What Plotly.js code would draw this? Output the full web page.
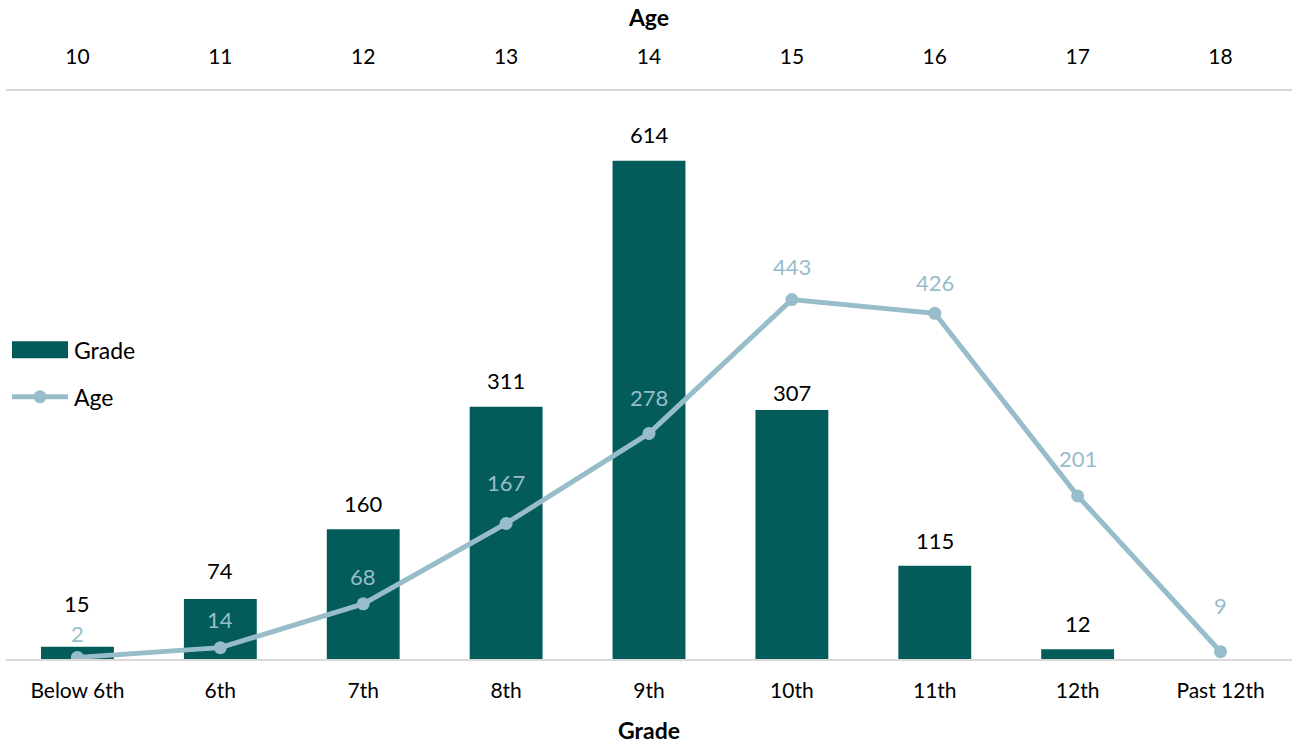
<!DOCTYPE html>
<html>
<head>
<meta charset="utf-8">
<script src="https://cdn.plot.ly/plotly-3.0.1.min.js"></script>
<style>html,body{margin:0;padding:0;background:#fff;}#chart{width:1292px;height:744px;}</style>
</head>
<body>
<div id="chart"></div>
<script>
const grades = ['Below 6th','6th','7th','8th','9th','10th','11th','12th','Past 12th'];
const gradeCounts = [15, 74, 160, 311, 614, 307, 115, 12, null];
const ages = ['10','11','12','13','14','15','16','17','18'];
const ageCounts = [2, 14, 68, 167, 278, 443, 426, 201, 9];

// label offsets (pixels above the mark), as placed in the reference
const gradeLabelShift = [43, 28, 26, 26, 26, 17, 25, 26, 26];
const ageLabelShift = [24, 28, 27, 41, 36, 33, 31, 37, 46];

const barColor = '#035b5a';
const lineColor = '#97bdca';
const fontFam = 'Lato, "Noto Sans", sans-serif';

const traces = [
  {
    type: 'bar', name: 'Grade', x: grades, y: gradeCounts,
    marker: {color: barColor}, width: 0.51, xaxis: 'x', yaxis: 'y',
    legendgroup: 'g', hoverinfo: 'x+y'
  },
  {
    type: 'scatter', mode: 'lines+markers', name: 'Age', x: ages, y: ageCounts,
    line: {color: lineColor, width: 5}, marker: {color: lineColor, size: 13},
    xaxis: 'x2', yaxis: 'y', legendgroup: 'a'
  }
];

const annotations = [];
grades.forEach((g, i) => {
  if (gradeCounts[i] !== null) {
    annotations.push({x: i, y: gradeCounts[i], xref: 'x', yref: 'y', text: String(gradeCounts[i]),
      showarrow: false, yshift: gradeLabelShift[i], font: {family: fontFam, size: 22, color: '#000'}});
  }
});
ages.forEach((a, i) => {
  annotations.push({x: i, y: ageCounts[i], xref: 'x2', yref: 'y', text: String(ageCounts[i]),
    showarrow: false, yshift: ageLabelShift[i], font: {family: fontFam, size: 22, color: lineColor}});
});

const layout = {
  width: 1292, height: 744,
  margin: {l: 6, r: 0, t: 91, b: 85},
  paper_bgcolor: '#fff', plot_bgcolor: '#fff',
  font: {family: fontFam, size: 21, color: '#000'},
  showlegend: true,
  legend: {x: 0, y: 0.582, xanchor: 'left', yanchor: 'top', bgcolor: 'rgba(0,0,0,0)',
    traceorder: 'grouped', tracegroupgap: 14, font: {size: 23, family: fontFam}, itemwidth: 58},
  xaxis: {
    type: 'category', categoryorder: 'array', categoryarray: grades, range: [-0.5, 8.5],
    showline: true, linecolor: '#d9d9d9', linewidth: 2, ticks: '', showgrid: false, zeroline: false,
    tickfont: {size: 21, family: fontFam}, ticklabelstandoff: 12,
    title: {text: '<b>Grade</b>', font: {size: 23, family: fontFam}, standoff: 22},
    fixedrange: true
  },
  xaxis2: {
    type: 'category', categoryorder: 'array', categoryarray: ages, range: [-0.5, 8.5],
    overlaying: 'x', side: 'top', anchor: 'y',
    showline: true, linecolor: '#d9d9d9', linewidth: 2, ticks: '', showgrid: false, zeroline: false,
    tickfont: {size: 21, family: fontFam}, ticklabelstandoff: 17,
    title: {text: '<b>Age</b>', font: {size: 23, family: fontFam}, standoff: 10},
    fixedrange: true
  },
  yaxis: {range: [0, 700], visible: false, showgrid: false, zeroline: false, fixedrange: true},
  annotations: annotations
};

function widenLegend(gd) {
  const items = gd.querySelectorAll('.legend .traces');
  items.forEach(function(item, idx) {
    const pts = item.querySelector('.legendpoints');
    if (!pts) return;
    if (idx === 0) {
      pts.querySelectorAll('path').forEach(function(p) {
        p.setAttribute('d', 'M6,8.5h56v-17h-56Z');
        p.setAttribute('transform', 'translate(0,0)');
      });
    }
  });
  gd.querySelectorAll('.legend path.js-line').forEach(function(p) {
    p.setAttribute('d', 'M6,0h56');
  });
  gd.querySelectorAll('.legend .legendpoints path.scatterpts').forEach(function(p) {
    p.setAttribute('transform', 'translate(34,0)');
  });
}

Plotly.newPlot('chart', traces, layout, {displayModeBar: false, responsive: false}).then(function(gd){
  widenLegend(gd);
  gd.on('plotly_afterplot', function(){ widenLegend(gd); });
  setTimeout(function(){ widenLegend(gd); }, 50);
});
</script>
</body>
</html>
